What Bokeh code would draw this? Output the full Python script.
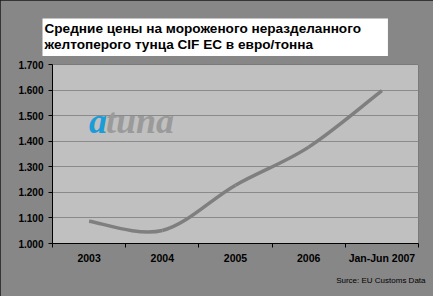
from bokeh.plotting import figure
from bokeh.models import Range1d, FixedTicker, Label, Title
from bokeh.embed import file_html
from bokeh.resources import INLINE

# ---- data ----
categories = ["2003", "2004", "2005", "2006", "Jan-Jun 2007"]
prices = [1087, 1051, 1228, 1377, 1598]
y_ticks = [1000, 1100, 1200, 1300, 1400, 1500, 1600, 1700]
y_labels = ["1.000", "1.100", "1.200", "1.300", "1.400", "1.500", "1.600", "1.700"]
title_lines = ["Средние цены на мороженого неразделанного",
               "желтоперого тунца CIF ЕС в евро/тонна"]
source_text = "Surce: EU Customs Data"

FONT = "Liberation Sans"
BG = "#878787"

p = figure(width=433, height=296, output_backend="svg", toolbar_location=None,
           x_range=Range1d(0, len(categories)), y_range=Range1d(1000, 1700),
           min_border_left=52, min_border_right=15, min_border_top=64,
           min_border_bottom=53)
p.styles = {"outline": "2px solid #1a1a1a", "outline-offset": "-2px"}
p.background_fill_color = "#C0C0C0"
p.border_fill_color = BG
p.outline_line_color = "#7a7a7a"

# grid
p.xgrid.visible = False
p.ygrid.grid_line_color = "#8a8a8a"
p.ygrid.grid_line_width = 1

# y axis
p.yaxis.ticker = FixedTicker(ticks=y_ticks)
p.yaxis.major_label_overrides = {t: l for t, l in zip(y_ticks, y_labels)}
p.yaxis.axis_line_color = "black"
p.yaxis.major_tick_line_color = "black"
p.yaxis.major_tick_in = 0
p.yaxis.major_tick_out = 4
p.yaxis.minor_tick_line_color = None
p.yaxis.major_label_standoff = 5
p.yaxis.major_label_text_font = FONT
p.yaxis.major_label_text_font_style = "bold"
p.yaxis.major_label_text_font_size = "10px"
p.yaxis.major_label_text_color = "black"

# x axis: labels at category centres, tick marks at boundaries
centers = [i + 0.5 for i in range(len(categories))]
bounds = list(range(len(categories) + 1))
p.xaxis.ticker = FixedTicker(ticks=centers, minor_ticks=bounds)
p.xaxis.major_label_overrides = {c: n for c, n in zip(centers, categories)}
p.xaxis.axis_line_color = "black"
p.xaxis.major_tick_line_color = None
p.xaxis.major_tick_in = 0
p.xaxis.major_tick_out = 0
p.xaxis.minor_tick_line_color = "black"
p.xaxis.minor_tick_in = 0
p.xaxis.minor_tick_out = 4
p.xaxis.major_label_standoff = 4
p.xaxis.major_label_text_font = FONT
p.xaxis.major_label_text_font_style = "bold"
p.xaxis.major_label_text_font_size = "10.5px"
p.xaxis.major_label_text_color = "black"

# smoothed line (Catmull-Rom -> cubic Bezier) built from the data
n = len(prices)
x0, y0, x1, y1, cx0, cy0, cx1, cy1 = [], [], [], [], [], [], [], []
for i in range(n - 1):
    xp, yp = centers[max(i - 1, 0)], prices[max(i - 1, 0)]
    xa, ya = centers[i], prices[i]
    xb, yb = centers[i + 1], prices[i + 1]
    xn, yn = centers[min(i + 2, n - 1)], prices[min(i + 2, n - 1)]
    x0.append(xa); y0.append(ya); x1.append(xb); y1.append(yb)
    cx0.append(xa + (xb - xp) / 6); cy0.append(ya + (yb - yp) / 6)
    cx1.append(xb - (xn - xa) / 6); cy1.append(yb - (yn - ya) / 6)
p.bezier(x0=x0, y0=y0, x1=x1, y1=y1, cx0=cx0, cy0=cy0, cx1=cx1, cy1=cy1,
         line_color="#7f7f7f", line_width=3.5)

# watermark
p.add_layout(Label(x=0.5, y=1478, text="a",
                   text_font="Liberation Serif", text_font_style="bold italic",
                   text_font_size="36px", text_color="#1b9bd7",
                   text_baseline="alphabetic"))
p.add_layout(Label(x=0.73, y=1478, text="tuna",
                   text_font="Liberation Serif", text_font_style="bold italic",
                   text_font_size="36px", text_color="#9a9a9a",
                   text_baseline="alphabetic"))

# title box
t = Title(text="\n".join(title_lines), align="left", text_font=FONT,
          text_font_style="bold", text_font_size="13.6px", text_color="black",
          text_line_height=1.1,
          background_fill_color="white", background_fill_alpha=1,
          padding=(2, 27, 2, 4), offset=-10, standoff=17)
p.add_layout(t, "above")

# source
s = Title(text=source_text, align="right", text_font=FONT,
          text_font_style="normal", text_font_size="8px", text_color="black",
          offset=-7, standoff=14)
p.add_layout(s, "below")

open("out.html", "w").write(file_html(p, INLINE))
